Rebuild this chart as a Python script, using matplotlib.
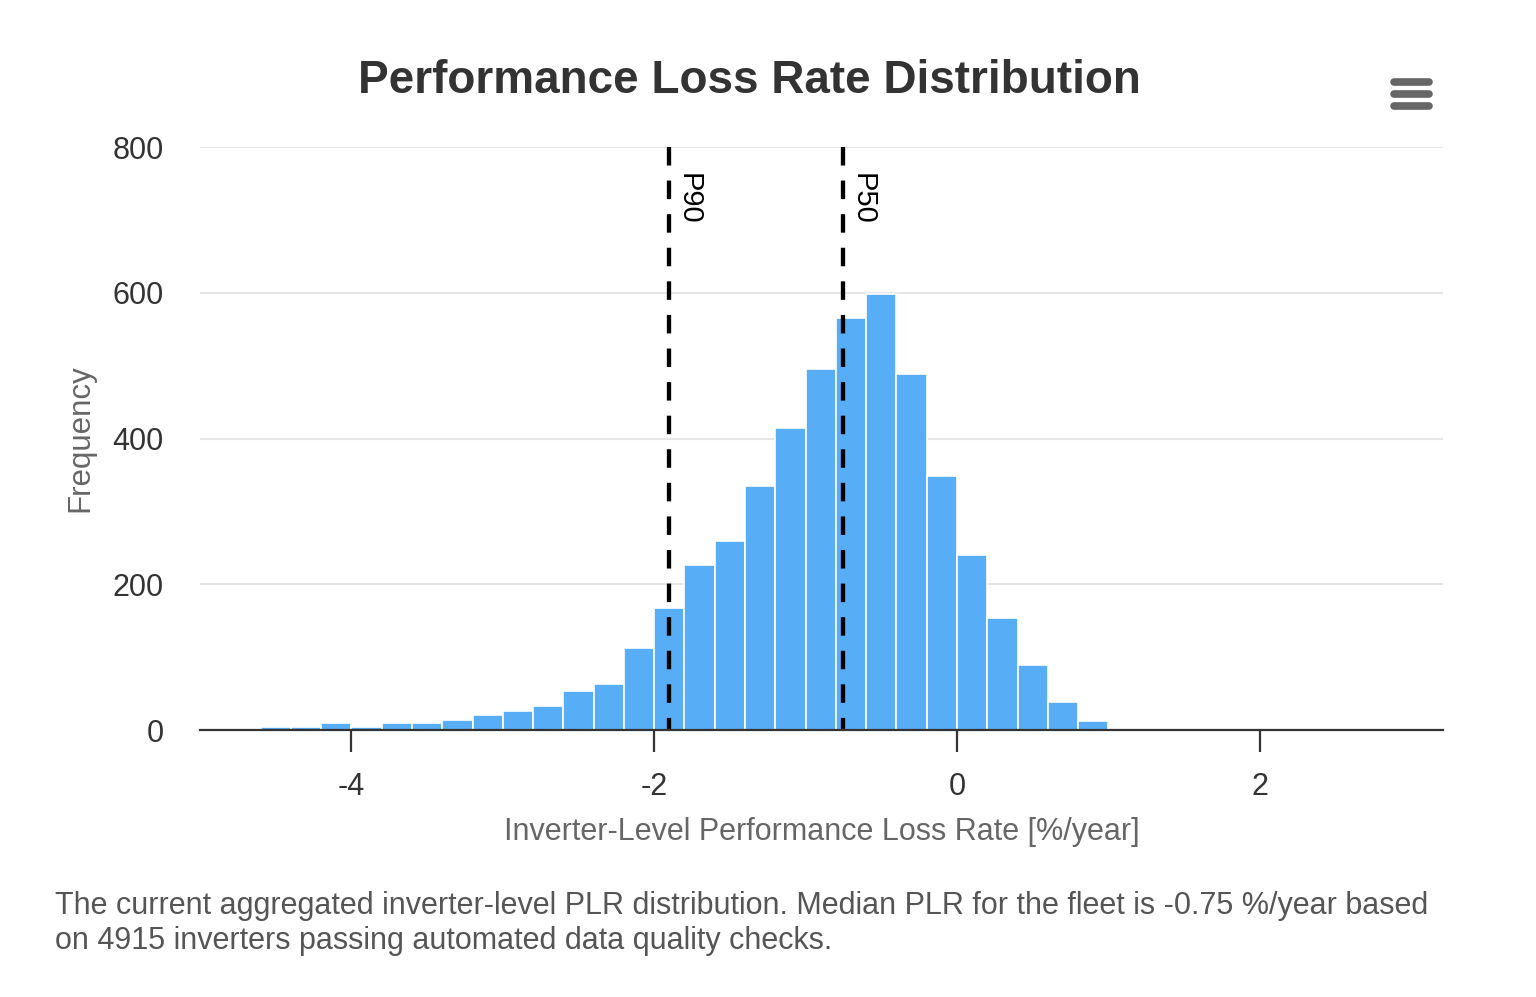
import matplotlib
matplotlib.use("Agg")
import matplotlib.pyplot as plt
from matplotlib.lines import Line2D

plt.rcParams["font.family"] = ["Liberation Sans", "DejaVu Sans"]

# histogram bins (left edges, width 0.2 %/year) and counts
bin_left = [-4.6, -4.4, -4.2, -4.0, -3.8, -3.6, -3.4, -3.2, -3.0, -2.8,
            -2.6, -2.4, -2.2, -2.0, -1.8, -1.6, -1.4, -1.2, -1.0, -0.8,
            -0.6, -0.4, -0.2, 0.0, 0.2, 0.4, 0.6, 0.8]
counts = [4, 4, 10, 4, 10, 10, 14, 20, 26, 33,
          53, 63, 112, 168, 227, 260, 335, 414, 496, 565,
          598, 489, 348, 240, 154, 89, 39, 13]
bin_width = 0.2
percentiles = {"P90": -1.90, "P50": -0.75}
x_ticks = [-4, -2, 0, 2]
y_ticks = [0, 200, 400, 600, 800]

title = "Performance Loss Rate Distribution"
xlabel = "Inverter-Level Performance Loss Rate [%/year]"
ylabel = "Frequency"
caption = ("The current aggregated inverter-level PLR distribution. Median PLR for the fleet is -0.75 %/year based\n"
           "on 4915 inverters passing automated data quality checks.")

W, H = 1536, 997
fig = plt.figure(figsize=(W / 100, H / 100), dpi=100)
ax = fig.add_axes([200 / W, 1 - 730 / H, 1243 / W, 583 / H])

ax.bar(bin_left, counts, width=bin_width, align="edge", color="#58adf7",
       edgecolor="white", linewidth=1.2, zorder=2)

for name, x in percentiles.items():
    # drawn top-down so the dash pattern starts at the top of the plot
    ax.plot([x, x], [800, 0], color="black", lw=3.1, ls=(0, (4.3, 3.5)),
            zorder=3, clip_on=False)
    ax.text(x + 0.035, 764, name, rotation=-90, ha="left", va="top",
            fontsize=21, color="black", zorder=4)

ax.set_xlim(-5.0, 3.21)
ax.set_ylim(0, 800)
ax.set_xticks(x_ticks)
ax.set_xticklabels([str(t) for t in x_ticks])
ax.set_yticks(y_ticks)
ax.set_yticklabels([str(t) for t in y_ticks])

for s in ["top", "right", "left"]:
    ax.spines[s].set_visible(False)
ax.spines["bottom"].set_color("#333333")
ax.spines["bottom"].set_linewidth(1.6)
ax.spines["bottom"].set_zorder(5)

ax.yaxis.grid(True, color="#e6e6e6", lw=1.5, zorder=0)
ax.set_axisbelow(True)
ax.tick_params(axis="x", length=16, width=1.6, color="#333333", labelsize=22,
               labelcolor="#333333", pad=14)
ax.tick_params(axis="y", length=0, labelsize=22, labelcolor="#333333", pad=26)

ax.set_xlabel(xlabel, fontsize=22, color="#666666")
ax.xaxis.set_label_coords(0.5, (730 - 832) / 583)
ax.xaxis.label.set_va("center")
ax.set_ylabel(ylabel, fontsize=22.5, color="#666666")
ax.yaxis.set_label_coords((80 - 200) / 1243, (730 - 438) / 583)
ax.yaxis.label.set_va("center")

fig.text(749 / W, 1 - 81 / H, title, ha="center", va="center",
         fontsize=33, fontweight="bold", color="#333333")

fig.text(55 / W, 1 - 891 / H, caption, ha="left", va="top", fontsize=22,
         color="#555555", linespacing=1.22)

# menu (hamburger) icon
for yy in [82, 94, 106]:
    fig.add_artist(Line2D([1394 / W, 1429 / W], [1 - yy / H, 1 - yy / H],
                          color="#666666", lw=5.5, solid_capstyle="round"))

fig.savefig("out.png", dpi=100)
